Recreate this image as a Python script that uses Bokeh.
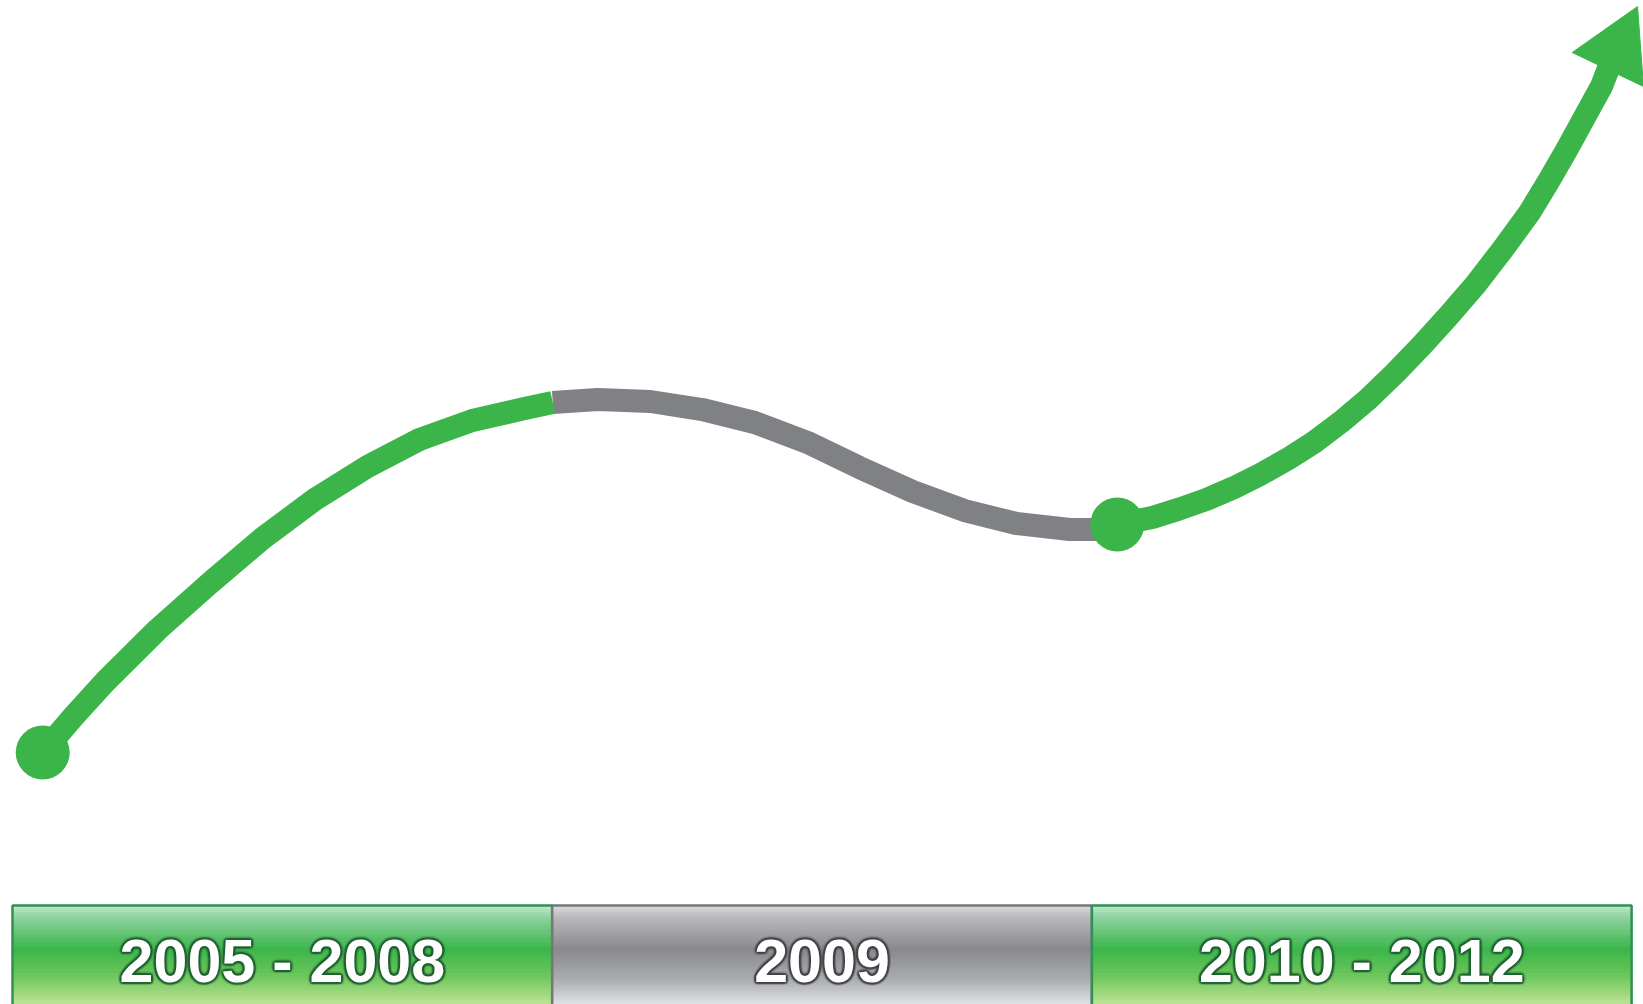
import numpy as np
from bokeh.plotting import figure
from bokeh.models import Range1d
from bokeh.core.properties import value
from bokeh.embed import file_html
from bokeh.resources import INLINE

# ---------------- data ----------------
# Timeline phases shown in the bottom bar (x in phase units)
phase_labels = ["2005 - 2008", "2009", "2010 - 2012"]
phase_left = [0.0, 1.0, 2.0]
phase_right = [1.0, 2.0, 3.0]
phase_kind = ["growth", "dip", "growth"]
bar_top = 9.86
label_y = 4.35

# Trend curve (index value 0-100)
growth1_x = [0.056, 0.113, 0.172, 0.269, 0.367, 0.463, 0.560, 0.658, 0.754, 0.852, 0.949, 1.001]
growth1_y = [25.10, 28.69, 32.17, 37.35, 42.03, 46.41, 50.30, 53.59, 56.27, 58.17, 59.36, 59.96]

dip_x = [1.001, 1.084, 1.182, 1.278, 1.375, 1.473, 1.569, 1.668, 1.764, 1.860, 1.959, 2.007, 2.047]
dip_y = [59.96, 60.26, 60.06, 59.26, 57.97, 55.98, 53.49, 51.10, 49.20, 47.91, 47.31, 47.31, 47.81]

growth2_x = [2.047, 2.112, 2.162, 2.212, 2.262, 2.312, 2.362, 2.411, 2.461, 2.511,
             2.561, 2.611, 2.661, 2.711, 2.761, 2.811, 2.845, 2.878, 2.911, 2.944, 2.957]
growth2_y = [47.81, 48.51, 49.35, 50.30, 51.45, 52.79, 54.30, 55.98, 58.00, 60.26,
             62.85, 65.64, 68.60, 71.71, 75.20, 78.88, 81.90, 84.96, 88.20, 91.43, 93.23]

arrow_x = [2.890, 3.011, 3.022]
arrow_y = [94.82, 99.40, 91.43]

marker_x = [0.056, 2.047]
marker_y = [25.10, 47.81]

# ---------------- styles ----------------
GREEN = "#3bb54a"
GRAY = "#808185"
grad = {
    "growth": [(0.0, (196, 234, 208)), (0.12, (143, 211, 160)), (0.45, (59, 181, 74)),
               (0.72, (110, 199, 92)), (1.0, (189, 227, 148))],
    "dip": [(0.0, (222, 222, 224)), (0.12, (186, 186, 188)), (0.45, (136, 137, 141)),
            (0.75, (170, 172, 176)), (1.0, (222, 225, 229))],
}
edge = {"growth": "#2f9152", "dip": "#76777b"}
shadow = {"growth": "#1d5e30", "dip": "#3f4044"}


def interp_color(stops, t):
    for (t0, c0), (t1, c1) in zip(stops[:-1], stops[1:]):
        if t0 <= t <= t1:
            f = (t - t0) / (t1 - t0)
            c = [int(round(a + (b - a) * f)) for a, b in zip(c0, c1)]
            return "#%02x%02x%02x" % tuple(c)
    c = stops[-1][1]
    return "#%02x%02x%02x" % c


W, H = 1643, 1004
px_per_u = 539.7
x0 = -12.0 / px_per_u
p = figure(width=W, height=H, output_backend="svg", toolbar_location=None,
           x_range=Range1d(x0, x0 + W / px_per_u), y_range=Range1d(0, 100),
           min_border=0, min_border_left=0, min_border_right=0,
           min_border_top=0, min_border_bottom=0)
p.axis.visible = False
p.grid.visible = False
p.outline_line_color = None
p.background_fill_color = "white"
p.border_fill_color = "white"

# ---- bottom bar with vertical gradient ----
n = 70
for left, right, kind in zip(phase_left, phase_right, phase_kind):
    edges = np.linspace(bar_top, 0, n + 1)
    tops = edges[:-1]
    bots = edges[1:]
    cols = [interp_color(grad[kind], (i + 0.5) / n) for i in range(n)]
    p.quad(left=[left] * n, right=[right] * n, top=list(tops), bottom=list(bots),
           fill_color=cols, line_color=cols, line_width=1)
    p.quad(left=[left], right=[right], top=[bar_top], bottom=[-1],
           fill_color=None, line_color=edge[kind], line_width=2.5)

# labels with soft dark outline
rings = [(3.5, 0.12, 12), (2.2, 0.45, 12)]
for left, right, lab, kind in zip(phase_left, phase_right, phase_labels, phase_kind):
    cx = (left + right) / 2
    for r, a, k in rings:
        for i in range(k):
            ang = 2 * np.pi * i / k
            p.text(x=[cx], y=[label_y], text=[lab],
                   x_offset=float(r * np.cos(ang)), y_offset=float(r * np.sin(ang)),
                   text_font=value("Liberation Sans"), text_font_style="bold",
                   text_font_size="61px", text_align="center", text_baseline="middle",
                   text_color=shadow[kind], text_alpha=a)
    p.text(x=[cx], y=[label_y], text=[lab],
           text_font=value("Liberation Sans"), text_font_style="bold",
           text_font_size="61px", text_align="center", text_baseline="middle",
           text_color="white")

# ---- trend curve ----
LW = 23
p.line(dip_x, dip_y, line_color=GRAY, line_width=LW, line_join="round", line_cap="butt")
p.line(growth1_x, growth1_y, line_color=GREEN, line_width=LW, line_join="round", line_cap="butt")
p.line(growth2_x, growth2_y, line_color=GREEN, line_width=LW, line_join="round", line_cap="butt")
p.patch(arrow_x, arrow_y, fill_color=GREEN, line_color=GREEN, line_width=1)
p.scatter(marker_x, marker_y, size=54, marker="circle", fill_color=GREEN, line_color=None)

open("out.html", "w").write(file_html(p, INLINE))
